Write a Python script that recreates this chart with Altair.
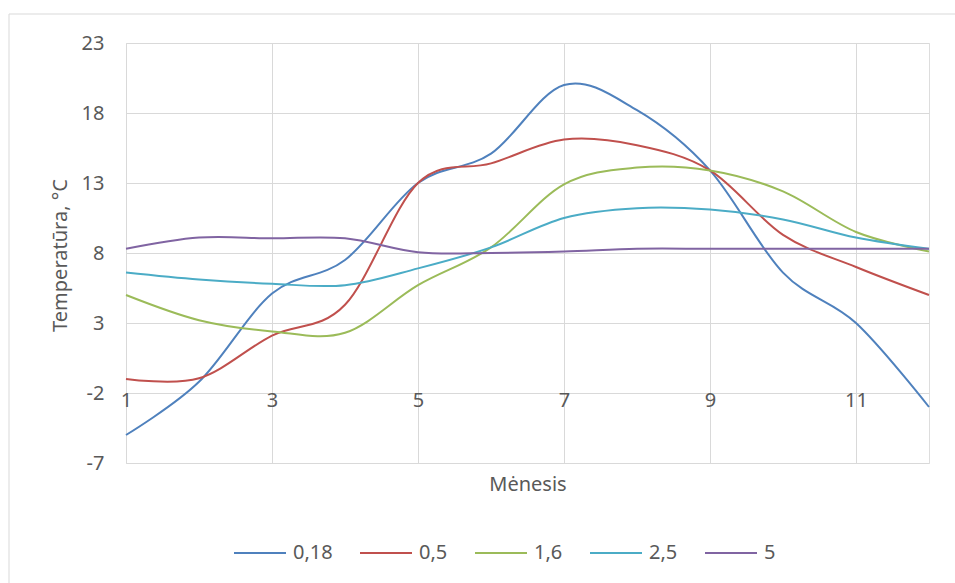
import altair as alt
import pandas as pd

months = [1, 2, 3, 4, 5, 6, 7, 8, 9, 10, 11, 12]
series_names = ["0,18", "0,5", "1,6", "2,5", "5"]
s_018 = [-5.0, -1.2, 5.1, 7.5, 13.0, 15.1, 20.0, 18.2, 13.9, 6.6, 3.0, -3.0]
s_05 = [-1.0, -0.95, 2.1, 4.3, 13.0, 14.4, 16.1, 15.7, 13.9, 9.3, 7.0, 5.0]
s_16 = [5.0, 3.2, 2.4, 2.3, 5.7, 8.4, 12.9, 14.1, 13.9, 12.4, 9.5, 8.1]
s_25 = [6.6, 6.1, 5.8, 5.7, 6.9, 8.4, 10.5, 11.2, 11.1, 10.4, 9.1, 8.3]
s_5 = [8.3, 9.1, 9.05, 9.05, 8.05, 8.0, 8.1, 8.3, 8.3, 8.3, 8.3, 8.3]
colors = ["#4F81BD", "#C0504D", "#9BBB59", "#4BACC6", "#8064A2"]
x_ticks = [1, 3, 5, 7, 9, 11]
y_ticks = [-7, -2, 3, 8, 13, 18, 23]

rows = []
for name, vals in zip(series_names, [s_018, s_05, s_16, s_25, s_5]):
    for m, v in zip(months, vals):
        rows.append({"Mėnesis": m, "Temperatūra": v, "Serija": name})
df = pd.DataFrame(rows)

FONT = "Noto Sans"
TXT = "#595959"
GRID = "#D9D9D9"

border = alt.Chart(pd.DataFrame({"a": [0]})).mark_rect(
    fillOpacity=0, stroke=GRID, strokeWidth=1
).encode(
    x=alt.value(-117), x2=alt.value(840), y=alt.value(-29), y2=alt.value(560)
)

lines = alt.Chart(df).mark_line(interpolate="cardinal", strokeWidth=2).encode(
    x=alt.X(
        "Mėnesis:Q",
        scale=alt.Scale(domain=[1, 12], nice=False, zero=False),
        axis=alt.Axis(
            values=x_ticks, grid=True, gridColor=GRID, gridWidth=1,
            domain=False, ticks=False, labelPadding=-73, labelFlush=False,
            labelExpr="datum.value + ''",
            labelFont=FONT, labelFontSize=20, labelColor=TXT,
            title="Mėnesis", titleFont=FONT, titleFontSize=20,
            titleFontWeight="normal", titleColor=TXT,
            titleY=27, titleBaseline="alphabetic",
        ),
    ),
    y=alt.Y(
        "Temperatūra:Q",
        scale=alt.Scale(domain=[-7, 23], nice=False, zero=False),
        axis=alt.Axis(
            values=y_ticks, grid=True, gridColor=GRID, gridWidth=1,
            domain=False, ticks=False, labelPadding=22, labelFlush=False,
            labelExpr="datum.value + ''",
            labelFont=FONT, labelFontSize=20, labelColor=TXT,
            title="Temperatūra, °C", titleFont=FONT, titleFontSize=20,
            titleFontWeight="normal", titleColor=TXT,
            titleX=-60, titleY=212, titleBaseline="alphabetic",
        ),
    ),
    color=alt.Color(
        "Serija:N",
        scale=alt.Scale(domain=series_names, range=colors),
        sort=series_names,
        legend=alt.Legend(
            title=None, orient="none", direction="horizontal",
            legendX=107, legendY=483,
            symbolType="stroke", symbolSize=2704, symbolStrokeWidth=2,
            labelFont=FONT, labelFontSize=20, labelColor=TXT,
            labelOffset=6, columnPadding=23,
        ),
    ),
)

chart = alt.layer(border, lines).properties(
    width=803, height=420,
    autosize=alt.AutoSizeParams(type="none"),
    padding={"left": 126, "top": 43, "right": 26, "bottom": 120},
).configure_view(stroke=None).configure(background="white")

chart.save("out.html", embed_options={"renderer": "svg", "actions": False})
